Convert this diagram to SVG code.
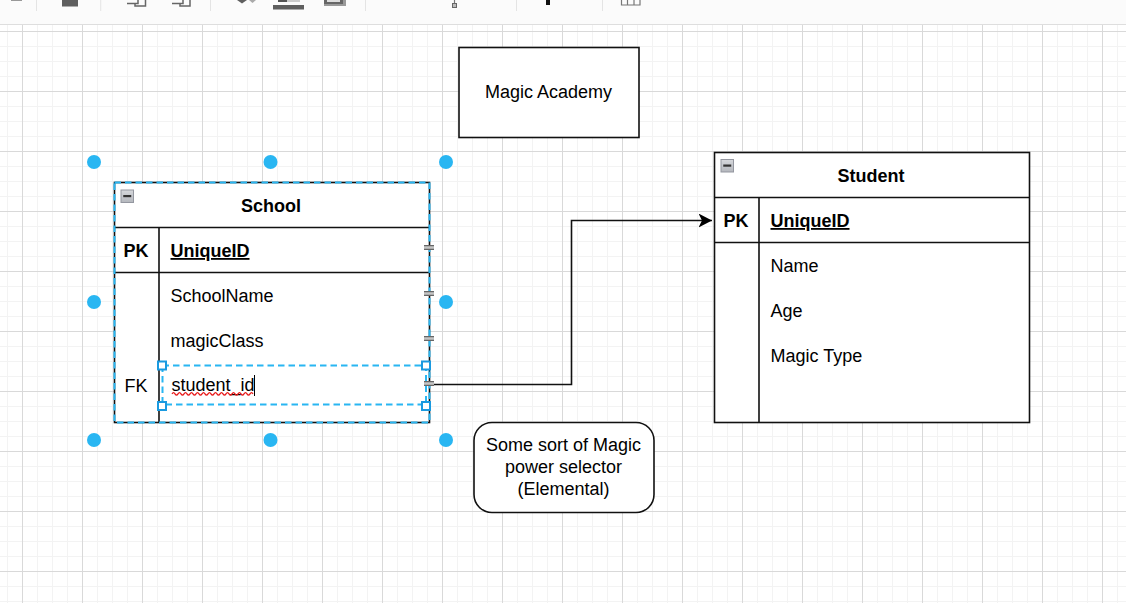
<svg xmlns="http://www.w3.org/2000/svg" width="1126" height="603" viewBox="0 0 1126 603">
<style>
.t{font-family:"Liberation Sans",Arial,sans-serif;font-size:18px;fill:#000}
.b{font-weight:bold}
.m{text-anchor:middle}
.s{fill:none;stroke:#111;stroke-width:1.600}
.f{fill:#fff;stroke:#111;stroke-width:1.600}
.h{fill:#29b6f2}
.sel{fill:none;stroke:#29b6f2;stroke-width:2;stroke-dasharray:6.500 4}
.hb{fill:#fff;stroke:#1a9ae0;stroke-width:2}
.tb{fill:#5f5f5f}
.sep{stroke:#e4e4e4;stroke-width:1}
</style>
<defs>
<pattern id="minor" x="7" y="16" width="15" height="15" patternUnits="userSpaceOnUse"><path d="M0.5 0V15M0 0.5H15" stroke="#f3f3f3" fill="none"/></pattern>
<pattern id="major" x="22" y="31" width="60" height="60" patternUnits="userSpaceOnUse"><path d="M0.5 0V60M0 0.5H60" stroke="#d9d9d9" fill="none"/></pattern>
<marker id="arr" markerWidth="14" markerHeight="14" refX="13.500" refY="7" orient="auto" markerUnits="userSpaceOnUse"><path d="M0 0L13.500 7L0 14L3.500 7Z" fill="#000"/></marker>
<linearGradient id="mg" x1="0" y1="0" x2="0" y2="1"><stop offset="0" stop-color="#d6d8dc"/><stop offset="1" stop-color="#b4b7bd"/></linearGradient>
<g id="min"><rect x="0.500" y="0.500" width="12.500" height="12.500" fill="url(#mg)" stroke="#9497a0"/><rect x="2.750" y="5.500" width="8" height="2.200" fill="#333"/></g>
<g id="tick"><rect x="0" y="0" width="10" height="5" fill="#c4c4c4"/><path d="M0 0.700H10M0 4.300H10" stroke="#666" stroke-width="1.200"/></g>
</defs>
<rect width="1126" height="603" fill="#fff"/>
<rect y="24" width="1126" height="579" fill="url(#minor)"/>
<rect y="24" width="1126" height="579" fill="url(#major)"/>
<g id="toolbar">
<rect width="1126" height="24" fill="#fbfbfb"/>
<path d="M0 24.500H1126" stroke="#dedede"/>
<path class="sep" d="M36.500 0V11M100.700 0V11M210.500 0V11M365.500 0V11M516.500 0V11M602.500 0V11"/>
<rect x="11" y="0" width="11" height="1" fill="#999"/>
<rect class="tb" x="62" y="0" width="16" height="6.500"/>
<path d="M127 3.500H138V0M135 3.500V6H145.500V0" fill="none" stroke="#666" stroke-width="1.500"/>
<path d="M172 3.500H183V0M180 3.500V6H190V0" fill="none" stroke="#666" stroke-width="1.500"/>
<path class="tb" d="M237 0H247L242 3.500Z"/><path d="M249 0H256L252.500 3Z" fill="#aaa"/>
<rect class="tb" x="273" y="5" width="31" height="4.500"/>
<rect x="278" y="0" width="9" height="2" fill="#555"/><rect x="287" y="0" width="13" height="2" fill="#ccc"/>
<rect x="324" y="0" width="22" height="6" fill="#999"/>
<rect x="324" y="0" width="19" height="4" fill="#666"/>
<rect x="327" y="0" width="13" height="2" fill="#ddd"/>
<path d="M454.500 0V3" stroke="#777" stroke-width="1.200"/>
<rect x="452.500" y="3.500" width="4" height="4" fill="#bbb" stroke="#666"/>
<rect x="546" y="0" width="4" height="5" fill="#111"/>
<path d="M621.500 0V5H640V0M627.500 0V5M634 0V5" fill="none" stroke="#777" stroke-width="1.200"/>
</g>
<g id="connectors">
<path class="s" d="M434 384.500H571.500V220.500H712" marker-end="url(#arr)"/>
</g>
<g id="title">
<rect class="f" x="459" y="47.500" width="180" height="90"/>
<text class="t m" x="548.500" y="98">Magic Academy</text>
</g>
<g id="note">
<rect class="f" x="474" y="422.500" width="180" height="90" rx="18"/>
<text class="t m" x="563.500" y="451">Some sort of Magic</text>
<text class="t m" x="563.500" y="473">power selector</text>
<text class="t m" x="563.500" y="495">(Elemental)</text>
</g>
<g id="school">
<rect x="114.500" y="182.500" width="315" height="240" fill="#fff"/>
<path d="M114.500 227.500H429.500M114.500 272.500H429.500M159 227.500V422.500" class="s"/>
<rect x="114.500" y="182.500" width="315" height="240" class="s"/>
<rect x="114.500" y="182.500" width="315" height="240" class="sel"/>
<use href="#min" x="120.500" y="189.500"/>
<text class="t b m" x="271" y="212">School</text>
<text class="t b m" x="136" y="257">PK</text>
<text class="t b" x="170.500" y="257" text-decoration="underline">UniqueID</text>
<text class="t" x="170.500" y="302">SchoolName</text>
<text class="t" x="170.500" y="347">magicClass</text>
<text class="t m" x="136" y="392">FK</text>
<text class="t" x="171.500" y="391">student_id</text>
<path d="M172 393.800q1.500 -2.400 3 0t3 0t3 0t3 0t3 0t3 0t3 0t3 0t3 0t3 0t3 0t3 0t3 0t3 0t3 0t3 0t3 0t3 0t3 0t3 0t3 0t3 0t3 0t3 0t3 0t3 0t3 0" fill="none" stroke="#e81818" stroke-width="1.300"/>
<path d="M254.500 375V396" stroke="#000" stroke-width="1"/>
</g>
<g id="student">
<rect x="714.500" y="152.500" width="315" height="270" fill="#fff"/>
<path d="M714.500 197.500H1029.500M714.500 242.500H1029.500M759 197.500V422.500" class="s"/>
<rect x="714.500" y="152.500" width="315" height="270" class="s"/>
<use href="#min" x="720.500" y="159"/>
<text class="t b m" x="871" y="182">Student</text>
<text class="t b m" x="736" y="227">PK</text>
<text class="t b" x="770.500" y="227" text-decoration="underline">UniqueID</text>
<text class="t" x="770.500" y="272">Name</text>
<text class="t" x="770.500" y="317">Age</text>
<text class="t" x="770.500" y="362">Magic Type</text>
</g>
<g id="selection">
<path class="sel" d="M162.500 365.500H426V404.500H162.500Z"/>
<use href="#tick" x="424" y="245"/><use href="#tick" x="424" y="291"/><use href="#tick" x="424" y="336"/><use href="#tick" x="424" y="381"/>
<circle class="h" cx="94" cy="162" r="7"/><circle class="h" cx="270.500" cy="162" r="7"/><circle class="h" cx="446" cy="162" r="7"/>
<circle class="h" cx="94" cy="302" r="7"/><circle class="h" cx="446" cy="302" r="7"/>
<circle class="h" cx="94" cy="440" r="7"/><circle class="h" cx="270.500" cy="440" r="7"/><circle class="h" cx="446" cy="440" r="7"/>
<rect class="hb" x="158" y="361.500" width="8" height="8"/><rect class="hb" x="422" y="361.500" width="8" height="8"/>
<rect class="hb" x="158" y="402" width="8" height="8"/><rect class="hb" x="422" y="402" width="8" height="8"/>
</g>
</svg>
